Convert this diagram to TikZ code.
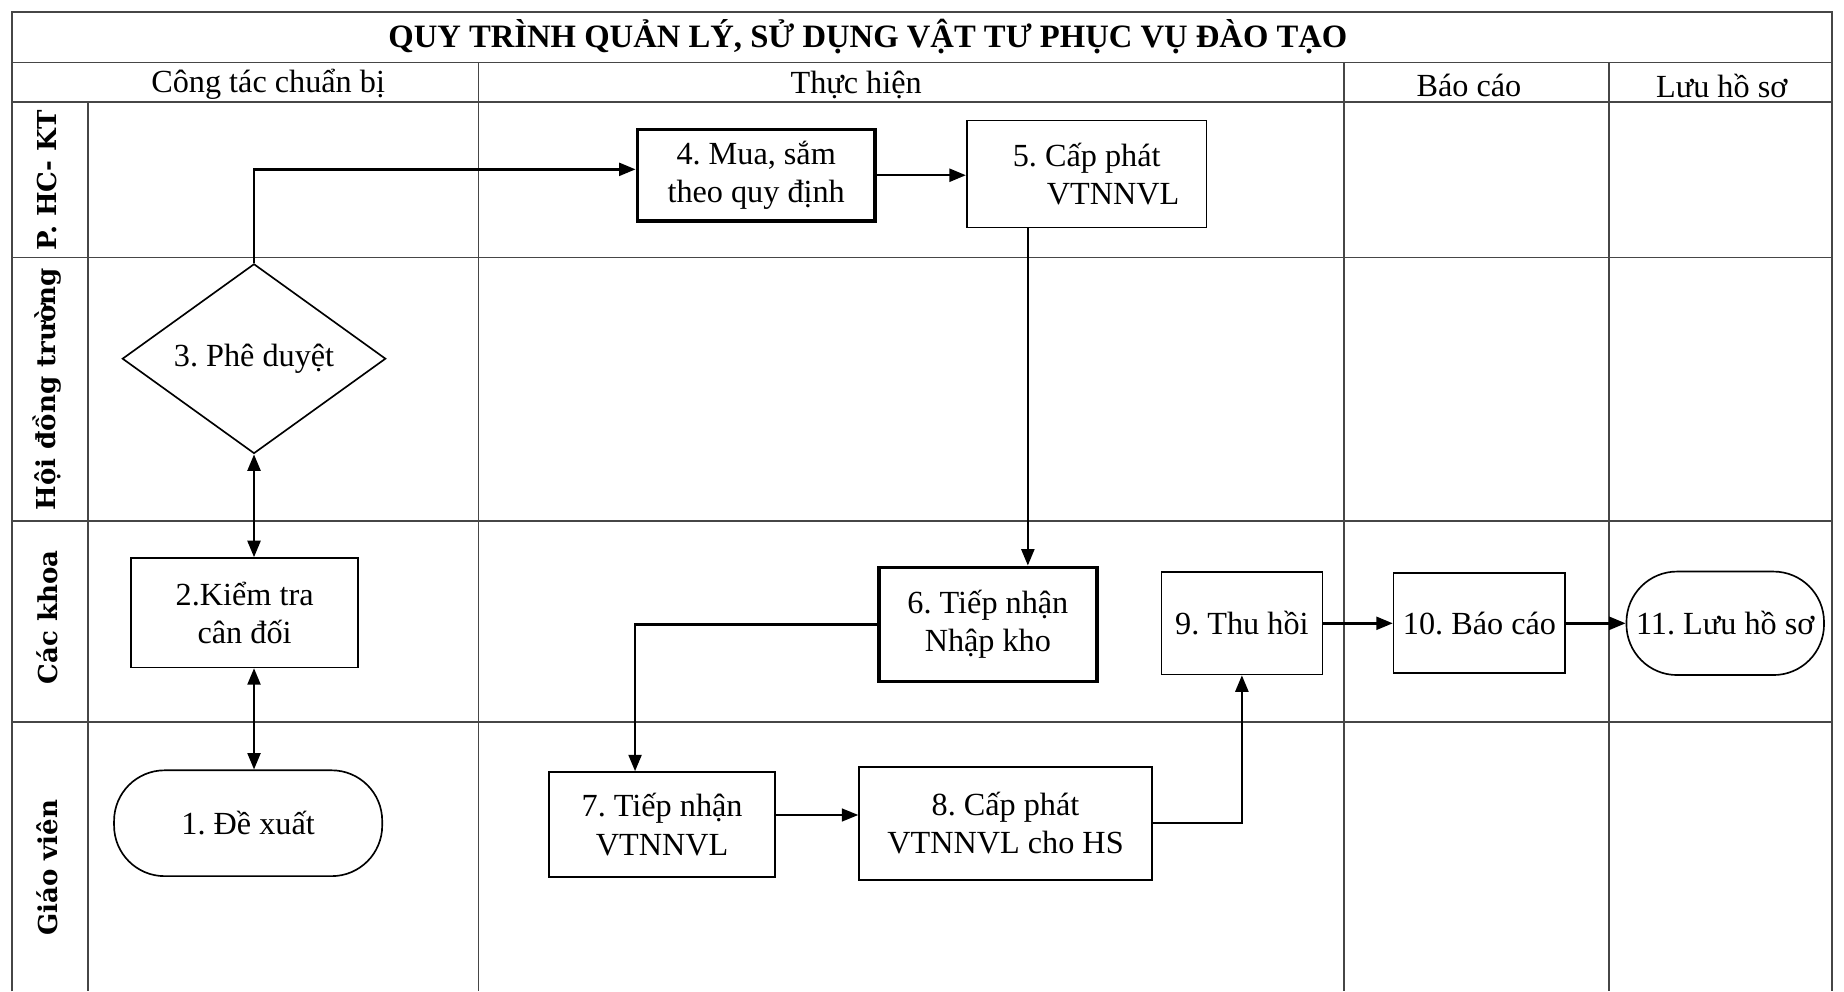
\documentclass[tikz,border=0pt]{standalone}
\usepackage{fontspec}
\setmainfont{Liberation Serif}
\newfontfamily\lanefont{DejaVu Serif}
\usepackage{tikz}
\usetikzlibrary{arrows.meta,shapes.geometric}
\definecolor{gridgray}{RGB}{70,70,70}
\frenchspacing

\begin{document}
\begin{tikzpicture}[x=1cm, y=-1cm,
  font=\fontsize{7.8}{9.3}\selectfont,
  lane/.style={draw=gridgray, line width=0.4pt},
  stepbox/.style={draw, line width=0.4pt, rectangle, align=center, inner sep=1pt},
  boldbox/.style={stepbox, line width=0.9pt},
  endbox/.style={draw, line width=0.4pt, rectangle, rounded corners=0.43cm, align=center, inner sep=1pt},
  choice/.style={draw, line width=0.4pt, diamond, align=center, inner sep=0pt},
  flow/.style={line width=0.6pt, -{Triangle[length=1.4mm, width=1.1mm]}},
  twoway/.style={line width=0.6pt, {Triangle[length=1.4mm, width=1.1mm]}-{Triangle[length=1.4mm, width=1.1mm]}},
  lanelabel/.style={rotate=90, font=\lanefont\bfseries\fontsize{6.3}{7}\selectfont}]
  \useasboundingbox (0,0) rectangle (15.68,8.43);
  % Frame, title row and header row
  \draw[lane] (0.10,8.43) -- (0.10,0.10) -- (15.58,0.10) -- (15.58,8.43);
  \draw[lane] (0.10,0.53) -- (15.58,0.53);
  \draw[lane] (0.10,0.87) -- (15.58,0.87);
  % Lane borders
  \foreach \y in {2.19,4.43,6.14}
    \draw[lane] (0.10,\y) -- (15.58,\y);
  % Column borders
  \draw[lane] (0.75,0.87) -- (0.75,8.43);
  \foreach \x in {4.07,11.43,13.68}
    \draw[lane] (\x,0.53) -- (\x,8.43);
  % Title and phases
  \node[font=\bfseries\fontsize{7.9}{9}\selectfont] (title) at (7.38,0.31) {QUY TRÌNH QUẢN LÝ, SỬ DỤNG VẬT TƯ PHỤC VỤ ĐÀO TẠO};
  \node (prep) at (2.28,0.72) {Công tác chuẩn bị};
  \node (exec) at (7.28,0.72) {Thực hiện};
  \node (rept) at (12.49,0.73) {Báo cáo};
  \node (arch) at (14.64,0.73) {Lưu hồ sơ};
  % Lane names
  \node[lanelabel] (hckt) at (0.40,1.53) {P. HC- KT};
  \node[lanelabel] (hdt) at (0.40,3.31) {Hội đồng trường};
  \node[lanelabel] (khoa) at (0.40,5.25) {Các khoa};
  \node[lanelabel] (gv) at (0.40,7.38) {Giáo viên};
  % Steps
  \node[endbox, minimum width=2.28cm, minimum height=0.90cm] (n1) at (2.11,7.00) {1. Đề xuất};
  \node[stepbox, minimum width=1.93cm, minimum height=0.93cm] (n2) at (2.08,5.21) {2.Kiểm tra\\cân đối};
  \node[choice, minimum width=2.24cm, minimum height=0.94cm] (n3) at (2.16,3.05) {3. Phê duyệt};
  \node[boldbox, minimum width=2.02cm, minimum height=0.78cm] (n4) at (6.43,1.49) {4. Mua, sắm\\theo quy định};
  \node[stepbox, minimum width=2.04cm, minimum height=0.91cm] (n5) at (9.24,1.48) {5. Cấp phát\\\hspace*{0.45cm}VTNNVL};
  \node[boldbox, minimum width=1.85cm, minimum height=0.97cm] (n6) at (8.40,5.31) {6. Tiếp nhận\\Nhập kho};
  \node[stepbox, minimum width=1.92cm, minimum height=0.89cm] (n7) at (5.63,7.01) {7. Tiếp nhận\\VTNNVL};
  \node[stepbox, minimum width=2.49cm, minimum height=0.96cm] (n8) at (8.55,7.00) {8. Cấp phát\\VTNNVL cho HS};
  \node[stepbox, minimum width=1.37cm, minimum height=0.87cm] (n9) at (10.56,5.30) {9. Thu hồi};
  \node[stepbox, minimum width=1.46cm, minimum height=0.85cm] (n10) at (12.58,5.30) {10. Báo cáo};
  \node[endbox, minimum width=1.68cm, minimum height=0.88cm] (n11) at (14.67,5.30) {11. Lưu hồ sơ};
  % Connectors
  \draw[twoway] (n3.south) -- (n3.south |- n2.north);
  \draw[twoway] (n3.south |- n2.south) -- (n3.south |- n1.north);
  \draw[flow] (n3.north) |- ([yshift=0.5mm]n4.west);
  \draw[flow] (n4.east) -- (n4.east -| n5.west);
  \draw[flow] ([xshift=-5mm]n5.south) -- ([xshift=-5mm]n5.south |- n6.north);
  \draw[flow] (n6.west) -| ([xshift=-2.3mm]n7.north);
  \draw[flow, line width=0.4pt] ([yshift=0.8mm]n7.east) -- ([yshift=0.8mm]n7.east -| n8.west);
  \draw[flow] (n8.east) -| (n9.south);
  \draw[flow] (n9.east) -- (n9.east -| n10.west);
  \draw[flow] (n10.east) -- (n10.east -| n11.west);
\end{tikzpicture}
\end{document}
